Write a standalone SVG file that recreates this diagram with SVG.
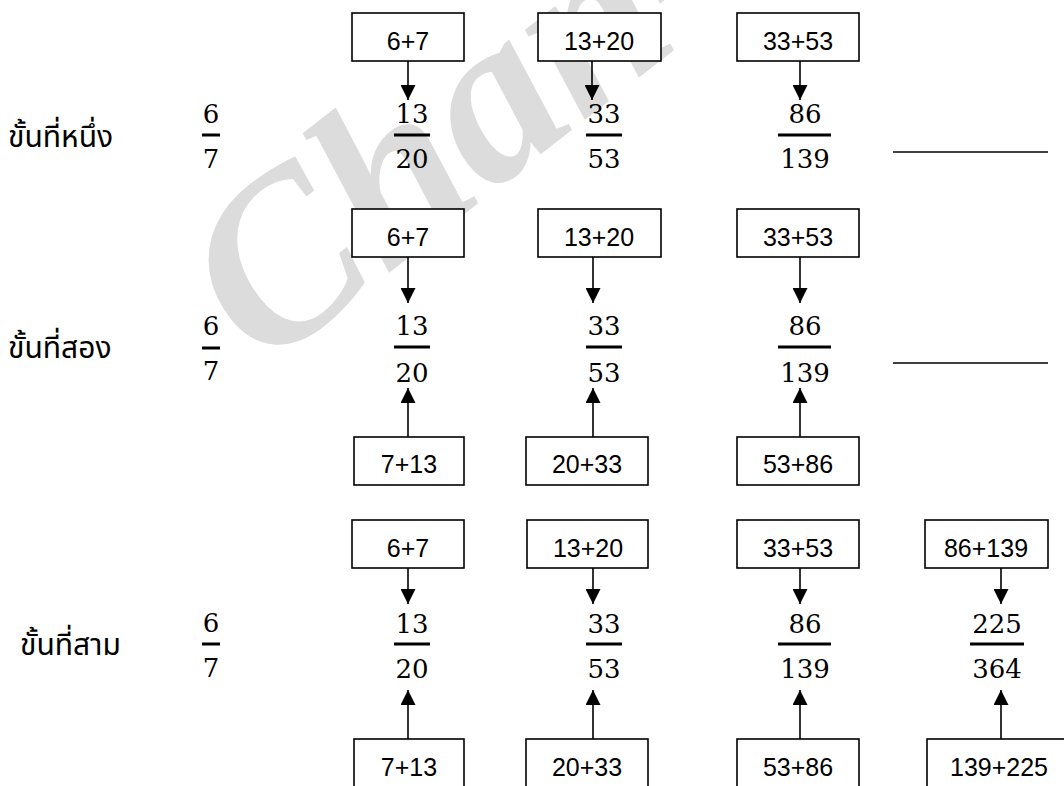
<svg xmlns="http://www.w3.org/2000/svg" width="1064" height="786" viewBox="0 0 1064 786">
<defs>
<marker id="ah" viewBox="0 0 15 15" refX="15" refY="7.5" markerWidth="15" markerHeight="15" markerUnits="userSpaceOnUse" orient="auto">
<path d="M0,0 L15,7.5 L0,15 Z" fill="#000"/>
</marker>
<style>
.box{fill:#fff;stroke:#000;stroke-width:1.6}
.bt{font-family:"Liberation Sans",Arial,sans-serif;font-size:25px;fill:#000;text-anchor:middle}
.fr{font-family:"DejaVu Serif","Liberation Serif",serif;font-size:26px;fill:#000;text-anchor:middle}
.bar{stroke:#000;stroke-width:3}
.lbl{font-family:"Noto Sans Thai","Noto Sans Thai UI","Loma","Garuda","Tahoma","Noto Sans",sans-serif;font-size:30px;fill:#000}
.con{stroke:#000;stroke-width:1.6;fill:none;marker-end:url(#ah)}
.blank{stroke:#000;stroke-width:1.5}
.wm{font-family:"Liberation Serif","Times New Roman",serif;font-style:italic;font-weight:bold;font-size:235px;fill:#dcdcdc}
</style>
</defs>
<rect width="1064" height="786" fill="#fff"/>
<g id="watermark"><text class="wm" transform="translate(262,372) rotate(-38)">Chan-</text></g>

<!-- Row 1 -->
<g id="r1-label"><text class="lbl" x="8" y="147">ขั้นที่หนึ่ง</text></g>
<g id="r1-f0"><text class="fr" x="211" y="123">6</text><line class="bar" x1="202" y1="135" x2="220" y2="135"/><text class="fr" x="211" y="168">7</text></g>
<g id="r1-b1"><rect class="box" x="352" y="13" width="112" height="48"/><text class="bt" x="408" y="50">6+7</text></g>
<g id="r1-b2"><rect class="box" x="538" y="13" width="123" height="48"/><text class="bt" x="599" y="50">13+20</text></g>
<g id="r1-b3"><rect class="box" x="737" y="13" width="122" height="48"/><text class="bt" x="798" y="50">33+53</text></g>
<g id="r1-f1"><text class="fr" x="412" y="123">13</text><line class="bar" x1="394" y1="135" x2="430" y2="135"/><text class="fr" x="412" y="168">20</text></g>
<g id="r1-f2"><text class="fr" x="604" y="123">33</text><line class="bar" x1="586" y1="135" x2="622" y2="135"/><text class="fr" x="604" y="168">53</text></g>
<g id="r1-f3"><text class="fr" x="805" y="123">86</text><line class="bar" x1="778" y1="135" x2="831" y2="135"/><text class="fr" x="805" y="168">139</text></g>
<g id="r1-blank"><line class="blank" x1="893" y1="152" x2="1048" y2="152"/></g>

<!-- Row 2 -->
<g id="r2-label"><text class="lbl" x="8" y="358">ขั้นที่สอง</text></g>
<g id="r2-f0"><text class="fr" x="211" y="335">6</text><line class="bar" x1="202" y1="348" x2="220" y2="348"/><text class="fr" x="211" y="380">7</text></g>
<g id="r2-b1"><rect class="box" x="352" y="209" width="112" height="48"/><text class="bt" x="408" y="246">6+7</text></g>
<g id="r2-b2"><rect class="box" x="538" y="209" width="123" height="48"/><text class="bt" x="599" y="246">13+20</text></g>
<g id="r2-b3"><rect class="box" x="737" y="209" width="122" height="48"/><text class="bt" x="798" y="246">33+53</text></g>
<g id="r2-f1"><text class="fr" x="412" y="335">13</text><line class="bar" x1="394" y1="347" x2="430" y2="347"/><text class="fr" x="412" y="382">20</text></g>
<g id="r2-f2"><text class="fr" x="604" y="335">33</text><line class="bar" x1="586" y1="347" x2="622" y2="347"/><text class="fr" x="604" y="382">53</text></g>
<g id="r2-f3"><text class="fr" x="805" y="335">86</text><line class="bar" x1="778" y1="347" x2="831" y2="347"/><text class="fr" x="805" y="382">139</text></g>
<g id="r2-blank"><line class="blank" x1="893" y1="363" x2="1048" y2="363"/></g>
<g id="r2-c1"><rect class="box" x="354" y="437" width="110" height="48"/><text class="bt" x="409" y="473">7+13</text></g>
<g id="r2-c2"><rect class="box" x="526" y="437" width="122" height="48"/><text class="bt" x="587" y="473">20+33</text></g>
<g id="r2-c3"><rect class="box" x="737" y="437" width="122" height="48"/><text class="bt" x="798" y="473">53+86</text></g>

<!-- Row 3 -->
<g id="r3-label"><text class="lbl" x="20" y="655">ขั้นที่สาม</text></g>
<g id="r3-f0"><text class="fr" x="211" y="632">6</text><line class="bar" x1="202" y1="644" x2="220" y2="644"/><text class="fr" x="211" y="677">7</text></g>
<g id="r3-b1"><rect class="box" x="352" y="520" width="112" height="48"/><text class="bt" x="408" y="557">6+7</text></g>
<g id="r3-b2"><rect class="box" x="527" y="520" width="121" height="48"/><text class="bt" x="588" y="557">13+20</text></g>
<g id="r3-b3"><rect class="box" x="737" y="520" width="122" height="48"/><text class="bt" x="798" y="557">33+53</text></g>
<g id="r3-b4"><rect class="box" x="925" y="520" width="123" height="48"/><text class="bt" x="986" y="557">86+139</text></g>
<g id="r3-f1"><text class="fr" x="412" y="633">13</text><line class="bar" x1="394" y1="644" x2="430" y2="644"/><text class="fr" x="412" y="678">20</text></g>
<g id="r3-f2"><text class="fr" x="604" y="633">33</text><line class="bar" x1="586" y1="644" x2="622" y2="644"/><text class="fr" x="604" y="678">53</text></g>
<g id="r3-f3"><text class="fr" x="805" y="633">86</text><line class="bar" x1="778" y1="644" x2="831" y2="644"/><text class="fr" x="805" y="678">139</text></g>
<g id="r3-f4"><text class="fr" x="997" y="633">225</text><line class="bar" x1="970" y1="644" x2="1024" y2="644"/><text class="fr" x="997" y="678">364</text></g>
<g id="r3-c1"><rect class="box" x="354" y="739" width="110" height="60"/><text class="bt" x="409" y="776">7+13</text></g>
<g id="r3-c2"><rect class="box" x="526" y="739" width="122" height="60"/><text class="bt" x="587" y="776">20+33</text></g>
<g id="r3-c3"><rect class="box" x="737" y="739" width="122" height="60"/><text class="bt" x="798" y="776">53+86</text></g>
<g id="r3-c4"><rect class="box" x="927" y="739" width="145" height="60"/><text class="bt" x="999" y="776">139+225</text></g>

<g id="connectors">
<line class="con" x1="408" y1="61" x2="408" y2="100"/>
<line class="con" x1="592" y1="61" x2="592" y2="100"/>
<line class="con" x1="800" y1="61" x2="800" y2="100"/>
<line class="con" x1="408" y1="257" x2="408" y2="303"/>
<line class="con" x1="593" y1="257" x2="593" y2="303"/>
<line class="con" x1="800" y1="257" x2="800" y2="303"/>
<line class="con" x1="408" y1="437" x2="408" y2="388"/>
<line class="con" x1="593" y1="437" x2="593" y2="388"/>
<line class="con" x1="800" y1="437" x2="800" y2="388"/>
<line class="con" x1="408" y1="568" x2="408" y2="604"/>
<line class="con" x1="593" y1="568" x2="593" y2="604"/>
<line class="con" x1="800" y1="568" x2="800" y2="604"/>
<line class="con" x1="1001" y1="568" x2="1001" y2="604"/>
<line class="con" x1="408" y1="739" x2="408" y2="690"/>
<line class="con" x1="593" y1="739" x2="593" y2="690"/>
<line class="con" x1="800" y1="739" x2="800" y2="690"/>
<line class="con" x1="1001" y1="739" x2="1001" y2="690"/>
</g>
</svg>
